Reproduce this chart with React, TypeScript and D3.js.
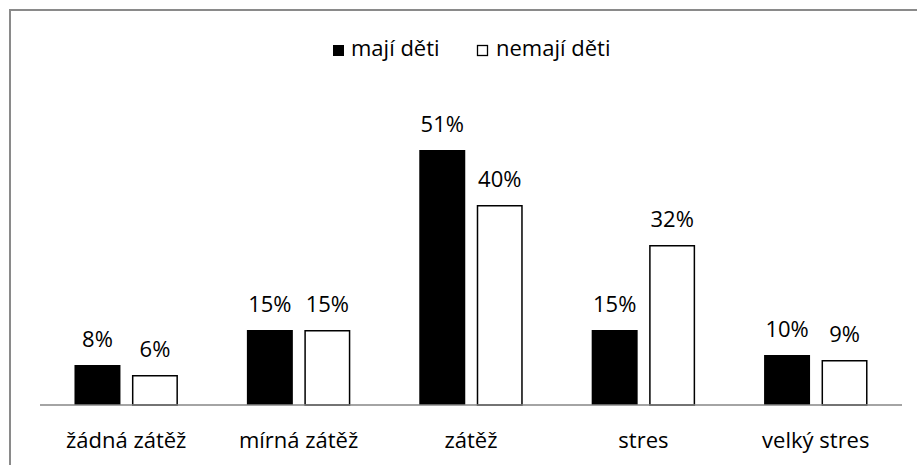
import React from "react";
import * as d3 from "d3";

const categories = ["žádná zátěž", "mírná zátěž", "zátěž", "stres", "velký stres"];
const seriesNames = ["mají děti", "nemají děti"];
const majiDeti = [8, 15, 51, 15, 10];
const nemajiDeti = [6, 15, 40, 32, 9];
const seriesValues = [majiDeti, nemajiDeti];
const fills = ["#000000", "#ffffff"];

const W = 917;
const H = 465;
const FONT = "'Open Sans', 'Noto Sans', sans-serif";
const FS = 22;

export default function App() {
  const x = d3.scaleBand<string>().domain(categories).range([40, 902]).paddingInner(0.4).paddingOuter(0.2);
  const xs = d3.scaleBand<number>().domain([0, 1]).range([0, x.bandwidth()]).paddingInner(0.2);
  const y = d3.scaleLinear().domain([0, 60]).range([405, 105]);

  return (
    <svg width={W} height={H} style={{ position: "absolute", left: 0, top: 0, display: "block" }}>
      <rect x={0} y={0} width={W} height={H} fill="#fff" />
      <rect x={10} y={10} width={W} height={H} fill="none" stroke="#8a8a8a" strokeWidth={2} />
      {/* legend */}
      <g fontFamily={FONT} fontSize={FS} fill="#000">
        <rect x={333} y={45} width={11} height={11} fill="#000" />
        <text x={351} y={56}>{seriesNames[0]}</text>
        <rect x={477.5} y={45.5} width={10} height={10} fill="#fff" stroke="#000" strokeWidth={1.3} />
        <text x={496} y={56}>{seriesNames[1]}</text>
      </g>
      {categories.map((c, i) => (
        <g key={c}>
          {seriesValues.map((vals, s) => {
            const bx = (x(c) as number) + (xs(s) as number);
            const bw = xs.bandwidth();
            const top = y(vals[i]);
            return (
              <g key={s}>
                <rect
                  x={s === 1 ? bx + 0.75 : bx}
                  y={s === 1 ? top + 0.75 : top}
                  width={s === 1 ? bw - 1.5 : bw}
                  height={s === 1 ? y(0) - top - 0.75 : y(0) - top}
                  fill={fills[s]}
                  stroke={s === 1 ? "#000" : "none"}
                  strokeWidth={1.5}
                />
                <text
                  x={bx + bw / 2}
                  y={top - 18.5}
                  textAnchor="middle"
                  fontFamily={FONT}
                  fontSize={FS}
                  fill="#000"
                >
                  {vals[i]}%
                </text>
              </g>
            );
          })}
          <text
            x={(x(c) as number) + x.bandwidth() / 2}
            y={447.5}
            textAnchor="middle"
            fontFamily={FONT}
            fontSize={FS}
            fill="#000"
          >
            {c}
          </text>
        </g>
      ))}
      <line x1={40} x2={902} y1={y(0)} y2={y(0)} stroke="#868686" strokeWidth={1.5} />
    </svg>
  );
}
